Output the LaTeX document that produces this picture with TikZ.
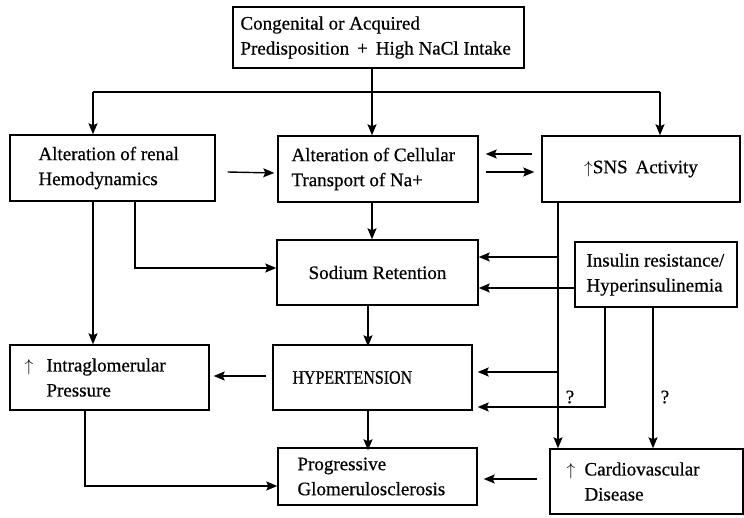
\documentclass[tikz,border=0pt]{standalone}
\usepackage{fontspec}
\usepackage{graphicx}
\setmainfont{Liberation Serif}[FakeBold=0.6]
\usetikzlibrary{arrows.meta,calc}
\begin{document}
\begin{tikzpicture}[x=1pt,y=-1pt,
  box/.style={draw,line width=1.4pt,inner sep=0pt},
  txt/.style={anchor=west,align=left,inner sep=0pt,font=\fontsize{19}{25}\selectfont},
  ln/.style={line width=1.4pt},
  arr/.style={line width=1.4pt,-{Stealth[length=11pt,width=9pt,inset=2pt]}},
  q/.style={inner sep=0pt,font=\fontsize{19}{22}\selectfont}]
\useasboundingbox (0,0) rectangle (744,518);
% boxes
\node[box,minimum width=291,minimum height=61] (top) at (378.5,37.5) {};
\node[txt] (topt) at ([xshift=8]top.west) {Congenital or Acquired\\Predisposition \,+\, High NaCl Intake};
\node[box,minimum width=205,minimum height=66] (A) at (112.5,168) {};
\node[txt] (At) at ([xshift=29]A.west) {Alteration of renal\\Hemodynamics};
\node[box,minimum width=200,minimum height=66] (B) at (378,169) {};
\node[txt] (Bt) at ([xshift=14]B.west) {Alteration of Cellular\\Transport of Na+};
\node[box,minimum width=198,minimum height=66] (C) at (641,169) {};
\node[q] (Ct) at (C.center) {$\uparrow$SNS\, Activity};
\node[box,minimum width=201,minimum height=65] (SR) at (377.5,272.5) {};
\node[q] (SRt) at (SR.center) {Sodium Retention};
\node[box,minimum width=162,minimum height=65] (Ins) at (656,274.5) {};
\node[txt] (Inst) at ([xshift=12]Ins.west) {Insulin resistance/\\Hyperinsulinemia};
\node[box,minimum width=199,minimum height=65] (HT) at (372.5,377.5) {};
\node[txt] (HTt) at ([xshift=20]HT.west) {\scalebox{0.84}[1]{HYPERTENSION}};
\node[box,minimum width=199,minimum height=65] (IG) at (109.5,377.5) {};
\node[txt] (IGt) at ([xshift=15]IG.west) {\makebox[22pt][l]{$\uparrow$}Intraglomerular\\\hspace*{22pt}Pressure};
\node[box,minimum width=199,minimum height=57] (PG) at (377.5,476.5) {};
\node[txt] (PGt) at ([xshift=20]PG.west) {Progressive\\Glomerulosclerosis};
\node[box,minimum width=193,minimum height=65] (CVD) at (646.5,481.5) {};
\node[txt] (CVDt) at ([xshift=17]CVD.west) {\makebox[18pt][l]{$\uparrow$}Cardiovascular\\\hspace*{18pt}Disease};
% top distribution
\coordinate (hl) at (93,92);
\coordinate (hr) at (660,92);
\coordinate (hm) at (372,92);
\draw[arr] (top.south -| hm) -- (hm |- B.north);
\draw[ln] (hl) -- (hr);
\draw[arr] (hl) -- (hl |- A.north);
\draw[arr] (hr) -- (hr |- C.north);
% row 1 horizontal arrows
\draw[arr] ($(A.east)+(12,4)$) -- ($(B.west)+(-3,4)$);
\draw[arr] ($(C.west)+(-9,-15)$) -- ($(B.east)+(7,-15)$);
\draw[arr] ($(B.east)+(7,3)$) -- ($(C.west)+(-7,3)$);
% from A
\coordinate (a1) at (93,201);
\coordinate (a2) at (135,201);
\coordinate (a3) at (135,268);
\draw[arr] (a1 |- A.south) -- (a1 |- IG.north);
\draw[arr] (a2 |- A.south) -- (a3) -- (a3 -| SR.west);
% B -> SR
\coordinate (b1) at (372,202);
\draw[arr] (b1 |- B.south) -- (b1 |- SR.north);
% SNS line
\coordinate (s0) at (558,202);
\coordinate (s1) at (558,257);
\coordinate (s2) at (558,372);
\draw[arr] (s0 |- C.south) -- (s0 |- CVD.north);
\draw[arr] (s1) -- (s1 -| SR.east);
\draw[arr,shorten >=5pt] (s2) -- (s2 -| HT.east);
% insulin
\coordinate (i1) at (575,288);
\draw[arr] (i1 -| Ins.west) -- (i1 -| SR.east);
\coordinate (i2) at (605,307);
\coordinate (i3) at (605,407);
\draw[arr,shorten >=5pt] (i2 |- Ins.south) -- (i3) -- (i3 -| HT.east);
\coordinate (i4) at (653,307);
\draw[arr] (i4 |- Ins.south) -- (i4 |- CVD.north);
\node[q] (q1) at (570,397) {?};
\node[q] (q2) at (665,397) {?};
% centre column
\coordinate (c1) at (368,305);
\draw[arr] (c1 |- SR.south) -- ([yshift=-2]c1 |- HT.north);
\draw[arr] (c1 |- HT.south) -- ([yshift=-3]c1 |- PG.north);
\draw[arr] ($(HT.west)+(-6,-1.5)$) -- ($(IG.east)+(4,-1.5)$);
% IG -> PG
\coordinate (g1) at (85,410);
\coordinate (g2) at (85,486);
\draw[arr] (g1 |- IG.south) -- (g2) -- (g2 -| PG.west);
% CVD -> PG
\draw[arr] ($(CVD.west)+(-12,-2.5)$) -- ($(PG.east)+(6,2.5)$);
\end{tikzpicture}
\end{document}
